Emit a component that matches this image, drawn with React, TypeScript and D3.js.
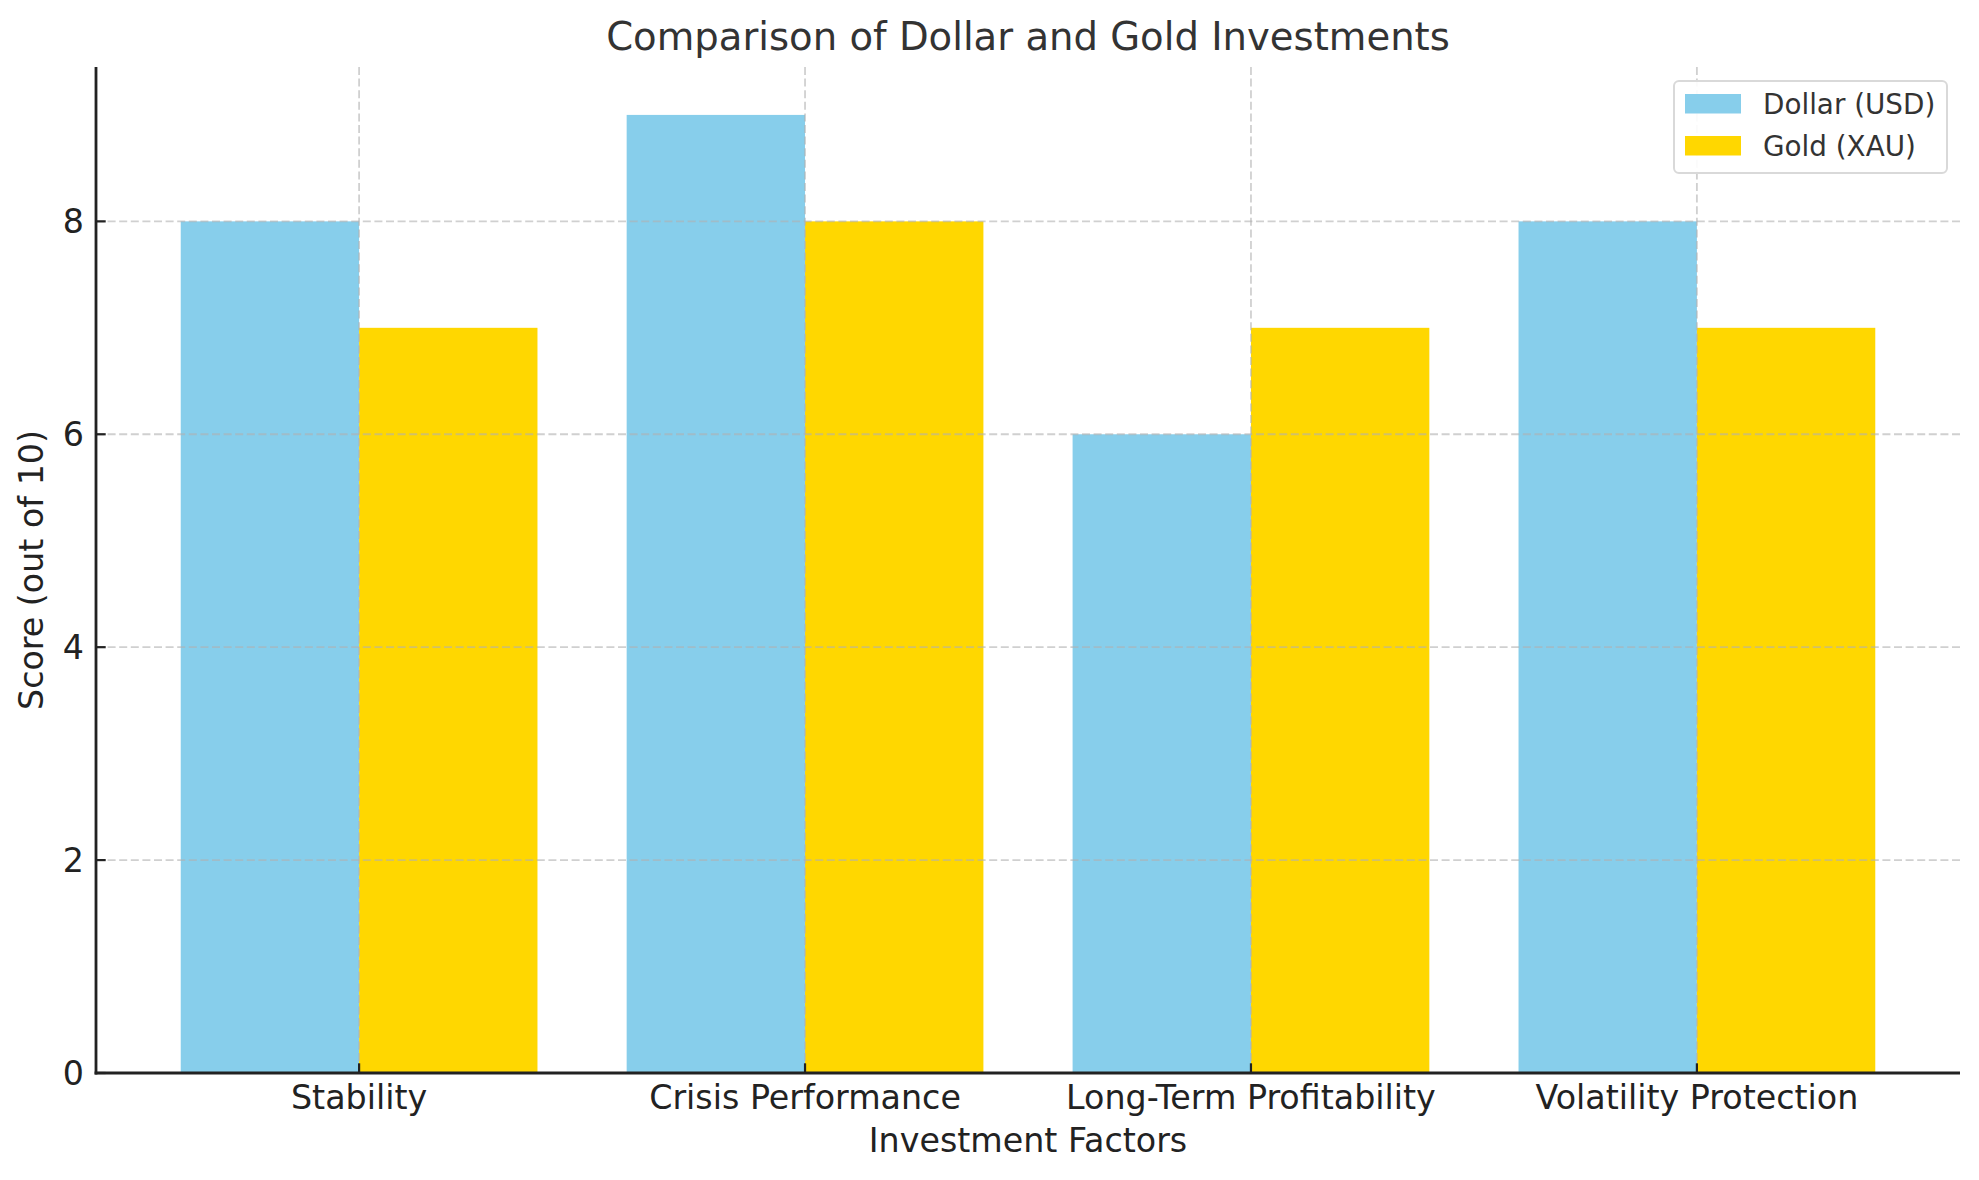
import React, { useEffect, useRef } from 'react'
import * as d3 from 'd3'

const categories = ['Stability', 'Crisis Performance', 'Long-Term Profitability', 'Volatility Protection']
const dollarScores = [8, 9, 6, 8]
const goldScores = [7, 8, 7, 7]
const seriesNames = ['Dollar (USD)', 'Gold (XAU)']
const yTicks = [0, 2, 4, 6, 8]

const W = 1979
const H = 1180
const FONT = 'DejaVu Sans, sans-serif'

const App = () => {
  const refSvg = useRef<SVGSVGElement>(null)

  const draw = () => {
    const root = d3.select(refSvg.current)
    root.selectAll('*').remove()

    const left = 96
    const right = 1960
    const top = 67
    const bottom = 1073
    const barW = 0.4

    const x = d3.scaleLinear().domain([-0.59, 3.59]).range([left, right])
    const y = d3.scaleLinear().domain([0, 9.45]).range([bottom, top])
    const colors = ['#87CEEB', '#FFD700']

    const series = [dollarScores, goldScores]
    series.forEach((vals, s) => {
      root
        .append('g')
        .selectAll('rect')
        .data(vals)
        .join('rect')
        .attr('x', (_, i) => x(i - barW + s * barW))
        .attr('width', x(barW) - x(0))
        .attr('y', (d) => y(d))
        .attr('height', (d) => y(0) - y(d))
        .attr('fill', colors[s])
    })

    // grid sits over the bars, semi transparent
    const grid = root
      .append('g')
      .attr('stroke', '#b0b0b0')
      .attr('stroke-opacity', 0.6)
      .attr('stroke-width', 1.8)
      .attr('stroke-dasharray', '8,3.6')
    grid
      .selectAll('line.h')
      .data(yTicks)
      .join('line')
      .attr('x1', left)
      .attr('x2', right)
      .attr('y1', (d) => y(d))
      .attr('y2', (d) => y(d))
    grid
      .selectAll('line.v')
      .data(categories)
      .join('line')
      .attr('x1', (_, i) => x(i))
      .attr('x2', (_, i) => x(i))
      .attr('y1', top)
      .attr('y2', bottom)

    // y axis
    const yAxis = root.append('g')
    yAxis
      .selectAll('line')
      .data(yTicks)
      .join('line')
      .attr('x1', left)
      .attr('x2', left + 9.7)
      .attr('y1', (d) => y(d))
      .attr('y2', (d) => y(d))
      .attr('stroke', '#222')
      .attr('stroke-width', 2.2)
    yAxis
      .selectAll('text')
      .data(yTicks)
      .join('text')
      .attr('x', left - 12)
      .attr('y', (d) => y(d))
      .attr('dy', '0.36em')
      .attr('text-anchor', 'end')
      .attr('font-family', FONT)
      .attr('font-size', 33.3)
      .attr('fill', '#222')
      .text((d) => d)

    // x axis
    const xAxis = root.append('g')
    xAxis
      .selectAll('line')
      .data(categories)
      .join('line')
      .attr('x1', (_, i) => x(i))
      .attr('x2', (_, i) => x(i))
      .attr('y1', bottom)
      .attr('y2', bottom - 9.7)
      .attr('stroke', '#222')
      .attr('stroke-width', 2.2)
    xAxis
      .selectAll('text')
      .data(categories)
      .join('text')
      .attr('x', (_, i) => x(i))
      .attr('y', 1109)
      .attr('text-anchor', 'middle')
      .attr('font-family', FONT)
      .attr('font-size', 33.3)
      .attr('fill', '#222')
      .text((d) => d)

    // spines
    root.append('line').attr('x1', left).attr('x2', left).attr('y1', top).attr('y2', bottom + 1.4).attr('stroke', '#222').attr('stroke-width', 2.8)
    root.append('line').attr('x1', left - 1.4).attr('x2', right).attr('y1', bottom).attr('y2', bottom).attr('stroke', '#222').attr('stroke-width', 2.8)

    // labels
    root
      .append('text')
      .attr('x', (left + right) / 2)
      .attr('y', 50)
      .attr('text-anchor', 'middle')
      .attr('font-family', FONT)
      .attr('font-size', 38.6)
      .attr('fill', '#333')
      .text('Comparison of Dollar and Gold Investments')
    root
      .append('text')
      .attr('x', (left + right) / 2)
      .attr('y', 1152)
      .attr('text-anchor', 'middle')
      .attr('font-family', FONT)
      .attr('font-size', 33.3)
      .attr('fill', '#222')
      .text('Investment Factors')
    root
      .append('text')
      .attr('transform', `translate(43,${(top + bottom) / 2}) rotate(-90)`)
      .attr('text-anchor', 'middle')
      .attr('font-family', FONT)
      .attr('font-size', 33.3)
      .attr('fill', '#222')
      .text('Score (out of 10)')

    // legend
    const lg = root.append('g')
    lg.append('rect')
      .attr('x', 1674)
      .attr('y', 81)
      .attr('width', 273)
      .attr('height', 92)
      .attr('rx', 5)
      .attr('fill', 'white')
      .attr('fill-opacity', 0.9)
      .attr('stroke', '#d9d9d9')
      .attr('stroke-width', 2)
    seriesNames.forEach((name, i) => {
      lg.append('rect')
        .attr('x', 1685)
        .attr('y', 94 + i * 42)
        .attr('width', 56)
        .attr('height', 19.5)
        .attr('fill', colors[i])
      lg.append('text')
        .attr('x', 1763)
        .attr('y', 113.5 + i * 42)
        .attr('font-family', FONT)
        .attr('font-size', 27.8)
        .attr('fill', '#333')
        .text(name)
    })
  }

  useEffect(() => {
    document.body.style.margin = '0'
    if (refSvg.current) {
      draw()
    }
  })

  return <svg ref={refSvg} width={W} height={H} style={{ display: 'block', background: 'white' }} />
}

export default App
